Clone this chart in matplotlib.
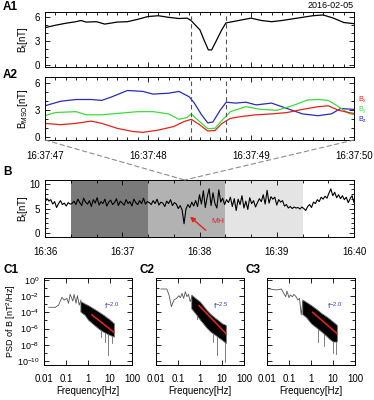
import numpy as np
import matplotlib
matplotlib.use('Agg')
import matplotlib.pyplot as plt
from matplotlib.patches import ConnectionPatch
from matplotlib.ticker import MultipleLocator, LogLocator, NullFormatter

plt.rcParams['font.family'] = ['Liberation Sans', 'DejaVu Sans']
plt.rcParams['mathtext.fontset'] = 'custom'
plt.rcParams['mathtext.rm'] = 'Liberation Sans'
plt.rcParams['mathtext.it'] = 'Liberation Sans'

# ---- A panels: seconds after 16:37:47 ----
a_ticks = [0, 1, 2, 3]
a_labels = ['16:37:47', '16:37:48', '16:37:49', '16:37:50']
mh_edges = [1.418, 1.757]

bt_t = [0, 0.1, 0.2, 0.3, 0.35, 0.4, 0.5, 0.58, 0.7, 0.8, 0.9, 1.0, 1.1, 1.2, 1.3,
        1.38, 1.418, 1.505, 1.544, 1.586, 1.618, 1.667, 1.715, 1.757, 1.8, 1.9, 2.0,
        2.1, 2.2, 2.3, 2.4, 2.5, 2.6, 2.7, 2.8, 2.9, 3.0]
bt_val = [4.7, 5.0, 5.25, 5.45, 5.6, 5.4, 5.45, 5.15, 5.4, 5.45, 5.75, 6.1, 6.2, 6.0, 5.85,
          5.9, 5.6, 4.4, 3.15, 1.9, 1.9, 3.15, 4.4, 5.3, 5.4, 5.65, 5.9,
          5.6, 5.45, 5.6, 5.8, 6.0, 6.2, 6.3, 5.9, 5.35, 5.2]

bz_t = [0, 0.15, 0.3, 0.45, 0.55, 0.65, 0.8, 0.95, 1.05, 1.2, 1.3, 1.4, 1.45, 1.52, 1.58,
        1.63, 1.7, 1.76, 1.85, 1.95, 2.05, 2.2, 2.35, 2.5, 2.65, 2.78, 2.87, 3.0]
bz_val = [3.5, 4.0, 4.2, 4.2, 4.1, 4.5, 5.2, 5.1, 4.8, 4.9, 5.1, 4.5, 3.8, 2.5, 1.6,
          1.7, 3.0, 3.9, 3.8, 3.9, 3.6, 3.8, 3.2, 2.6, 2.4, 2.6, 3.2, 3.1]
bx_t = [0, 0.15, 0.3, 0.45, 0.55, 0.7, 0.85, 0.95, 1.1, 1.25, 1.35, 1.42, 1.5, 1.58,
        1.65, 1.72, 1.8, 1.9, 2.05, 2.2, 2.35, 2.5, 2.65, 2.75, 2.85, 2.95, 3.0]
bx_val = [1.55, 1.4, 1.55, 1.8, 1.55, 1.0, 0.65, 0.55, 0.8, 1.2, 1.75, 2.0, 1.4, 0.7,
          0.75, 1.55, 2.1, 2.3, 2.5, 2.6, 2.75, 3.1, 3.4, 3.5, 3.0, 2.75, 2.65]
by_t = [0, 0.1, 0.3, 0.4, 0.55, 0.7, 0.9, 1.05, 1.2, 1.3, 1.38, 1.42, 1.5, 1.58, 1.65,
        1.72, 1.8, 1.95, 2.1, 2.25, 2.4, 2.55, 2.65, 2.75, 2.85, 2.95, 3.0]
by_val = [2.4, 2.75, 2.85, 2.5, 2.5, 2.65, 2.85, 2.85, 2.6, 2.0, 2.2, 2.6, 1.75, 0.95, 1.0,
          1.9, 2.85, 3.4, 3.1, 3.0, 3.5, 4.15, 4.2, 4.1, 3.4, 2.65, 2.5]

# ---- B panel: seconds after 16:36:00 ----
b_ticks = [0, 60, 120, 180, 240]
b_labels = ['16:36', '16:37', '16:38', '16:39', '16:40']
b_total = [
    6.3, 7.0, 6.5, 6.8, 5.9, 6.4, 5.2, 6.0, 6.6, 5.8, 6.1, 5.5, 6.2, 5.9,
    6.0, 6.5, 5.8, 6.9, 6.2, 5.6, 7.1, 6.3, 5.9, 6.6, 5.4, 6.8, 6.1, 7.2, 5.7, 6.4,
    6.0, 6.9, 5.5, 6.3, 6.7, 5.8, 6.2, 7.0, 5.6, 6.5, 6.1, 5.7, 6.8, 6.0, 6.4, 5.5,
    6.9, 6.2, 5.8, 6.6, 6.0, 7.1, 5.9, 6.4,
    6.2, 5.8, 6.6, 6.0, 6.9, 5.7, 6.3, 6.1, 5.4, 6.5, 6.0, 6.8, 5.6, 6.2, 5.9,
    5.0, 5.6, 4.7, 1.9, 4.9, 5.8, 5.2, 6.3, 5.5, 6.6,
    5.4, 7.8, 5.9, 8.6, 5.2, 7.4, 9.0, 5.6, 8.2, 6.0, 5.1, 8.8, 6.3, 7.1, 5.8,
    6.8, 6.2, 7.3, 5.4, 7.0, 4.6, 6.9, 5.8, 7.6, 5.1, 6.5, 4.8, 7.2, 6.0, 6.6, 5.3,
    6.2, 7.0, 6.4, 7.8, 5.9, 8.7, 6.1, 7.4, 6.9, 7.3, 5.7, 6.8, 6.3, 6.6, 5.5, 5.8,
    5.1, 5.4, 5.0, 5.3, 5.1, 5.2, 4.9, 5.3,
    5.0, 4.6, 5.4, 5.8, 5.2, 6.3, 6.0, 6.8, 6.4, 7.3, 6.9, 7.5, 7.1, 8.1, 9.0, 7.6,
    8.3, 7.2, 7.8, 7.0, 7.6, 6.8, 7.3, 6.2, 7.0, 7.6, 6.2]
b_intervals = [(20, 80), (80, 140), (140, 200)]
b_shades = ['#7a7a7a', '#b2b2b2', '#e4e4e4']
zoom_center = 108.5

# ---- C panels: PSD (log10 values) ----
psd = {
    'C1': dict(
        low_f=[0.0165, 0.0328, 0.0461, 0.0652, 0.083, 0.11, 0.13, 0.154, 0.204, 0.233,
               0.287, 0.33, 0.40, 0.48],
        low_p=[-3.37, -3.37, -3.09, -2.14, -2.47, -2.27, -2.88, -1.77, -2.59, -1.77,
               -2.88, -1.93, -3.09, -2.47],
        band_f=[0.45, 0.7, 1.0, 2.0, 3.0, 5.0, 7.0, 10.0, 15.0],
        band_hi=[-2.6, -2.9, -3.1, -3.6, -3.9, -4.3, -4.6, -4.9, -5.35],
        band_lo=[-3.9, -4.3, -4.9, -5.6, -6.0, -6.4, -6.6, -6.8, -7.0],
        spikes=[(6.0, -7.6), (8.0, -9.3), (4.0, -7.0), (12.0, -7.8)],
        fit_f=[1.5, 15.0], fit_p=[-4.3, -6.45], label='f$^{-2.0}$', lab_x=0.77),
    'C2': dict(
        low_f=[0.0167, 0.031, 0.039, 0.05, 0.065, 0.086, 0.109, 0.129, 0.153, 0.181,
               0.216, 0.256, 0.30, 0.358, 0.43],
        low_p=[-1.11, -1.11, -1.85, -3.3, -2.47, -2.27, -1.94, -2.18, -1.65, -2.27,
               -1.44, -2.06, -1.77, -2.67, -2.06],
        band_f=[0.4, 0.6, 1.0, 2.0, 3.0, 5.0, 7.0, 10.0, 15.0],
        band_hi=[-1.8, -2.2, -2.67, -3.7, -4.2, -4.7, -5.0, -5.35, -5.56],
        band_lo=[-3.5, -4.1, -4.9, -5.9, -6.38, -6.8, -7.1, -7.4, -7.8],
        spikes=[(0.7, -4.8), (6.0, -9.25), (14.0, -10.1), (4.0, -7.6)],
        fit_f=[0.9, 15.0], fit_p=[-3.15, -6.6], label='f$^{-2.5}$', lab_x=0.74),
    'C3': dict(
        low_f=[0.0136, 0.0272, 0.0456, 0.054, 0.071, 0.081, 0.1, 0.115, 0.142, 0.167,
               0.21, 0.254, 0.30, 0.36, 0.42],
        low_p=[-1.11, -1.23, -1.11, -1.52, -2.06, -1.36, -2.18, -1.85, -2.06, -1.77,
               -2.06, -2.47, -2.27, -4.32, -2.67],
        band_f=[0.4, 0.6, 1.0, 2.0, 3.0, 5.0, 7.0, 10.0, 15.0],
        band_hi=[-2.4, -2.7, -3.09, -3.7, -4.1, -4.5, -4.8, -5.14, -5.56],
        band_lo=[-4.2, -4.6, -5.35, -6.0, -6.38, -6.9, -7.3, -7.6, -7.6],
        spikes=[(2.0, -7.6), (4.0, -8.2), (10.0, -9.05), (14.0, -9.2)],
        fit_f=[1.2, 15.0], fit_p=[-4.0, -6.6], label='f$^{-2.0}$', lab_x=0.77),
}

W, H = 374, 400
fig = plt.figure(figsize=(W / 100, H / 100), dpi=100)


def rect(left, top, right, bottom):
    return [left / W, 1 - bottom / H, (right - left) / W, (bottom - top) / H]


def idl_ticks(ax):
    ax.tick_params(which='both', direction='in', top=True, right=True, labelsize=7,
                   width=0.6, colors='black')
    ax.tick_params(which='major', length=3.5)
    ax.tick_params(which='minor', length=2)
    for s in ax.spines.values():
        s.set_linewidth(0.7)


# A1
ax1 = fig.add_axes(rect(45, 12, 354, 67))
ax1.plot(bt_t, bt_val, color='black', lw=0.9)
ax1.set_xlim(0, 3)
ax1.set_ylim(-0.25, 6.67)
ax1.set_yticks([0, 3, 6])
ax1.xaxis.set_major_locator(MultipleLocator(1))
ax1.xaxis.set_minor_locator(MultipleLocator(0.1))
ax1.yaxis.set_minor_locator(MultipleLocator(1))
ax1.set_xticklabels([])
ax1.set_ylabel('B$_\\mathrm{t}$[nT]', fontsize=7)
ax1.yaxis.set_label_coords(-0.05, 0.5)
idl_ticks(ax1)

# A2
ax2 = fig.add_axes(rect(45, 77, 354, 140))
ax2.plot(bz_t, bz_val, color='#2b2bb5', lw=0.9)
ax2.plot(by_t, by_val, color='#3ddc3d', lw=0.9)
ax2.plot(bx_t, bx_val, color='#e3221c', lw=0.9)
ax2.set_xlim(0, 3)
ax2.set_ylim(-0.3, 6.7)
ax2.set_yticks([0, 3, 6])
ax2.set_xticks(a_ticks)
ax2.set_xticklabels(a_labels)
ax2.xaxis.set_minor_locator(MultipleLocator(0.1))
ax2.yaxis.set_minor_locator(MultipleLocator(1))
ax2.set_ylabel('B$_\\mathrm{MSO}$[nT]', fontsize=7)
ax2.yaxis.set_label_coords(-0.05, 0.5)
idl_ticks(ax2)
ax2.tick_params(axis='x', pad=8)
for lab, col, yy in [('B$_\\mathrm{x}$', '#e3221c', 0.635),
                     ('B$_\\mathrm{y}$', '#3ddc3d', 0.475),
                     ('B$_\\mathrm{z}$', '#2b2bb5', 0.315)]:
    ax2.text(1.012, yy, lab, color=col, fontsize=5.2, transform=ax2.transAxes,
             va='center', ha='left')

for ax in (ax1, ax2):
    for xv in mh_edges:
        ax.axvline(xv, color='#555555', lw=0.8, ls=(0, (4, 3)))

# B
ax3 = fig.add_axes(rect(45, 180, 354, 237))
for (x0, x1), c in zip(b_intervals, b_shades):
    ax3.axvspan(x0, x1, color=c, lw=0)
b_t = np.linspace(0, 240, len(b_total))
ax3.plot(b_t, b_total, color='black', lw=0.8)
ax3.set_xlim(0, 240)
ax3.set_ylim(-0.8, 10.8)
ax3.set_yticks([0, 5, 10])
ax3.set_xticks(b_ticks)
ax3.set_xticklabels(b_labels)
ax3.xaxis.set_minor_locator(MultipleLocator(20))
ax3.yaxis.set_minor_locator(MultipleLocator(1))
ax3.set_ylabel('B$_\\mathrm{t}$[nT]', fontsize=7)
ax3.yaxis.set_label_coords(-0.05, 0.5)
idl_ticks(ax3)
ax3.tick_params(axis='x', pad=7.5)
ax3.annotate('', xy=(111, 3.7), xytext=(126.5, 0.2),
             arrowprops=dict(arrowstyle='-|>', color='#e3221c', lw=1.0,
                             mutation_scale=7))
ax3.text(129, 2.4, 'MH', color='#e3221c', fontsize=6, va='center')

for xa in (0, 1):
    con = ConnectionPatch(xyA=(xa, 0), coordsA=ax2.transAxes,
                          xyB=(zoom_center, 1), coordsB=ax3.get_xaxis_transform(),
                          color='#8c8c8c', lw=0.8, ls=(0, (4, 3)))
    fig.add_artist(con)

# C panels
c_rects = [rect(44, 278, 132, 365), rect(156, 278, 244, 365), rect(267, 278, 355, 365)]
for i, (name, r) in enumerate(zip(psd, c_rects)):
    d = psd[name]
    ax = fig.add_axes(r)
    ax.set_xscale('log')
    ax.set_yscale('log')
    ax.plot(d['low_f'], 10 ** np.array(d['low_p']), color='#555555', lw=0.6)
    ax.fill_between(d['band_f'], 10 ** np.array(d['band_lo']), 10 ** np.array(d['band_hi']),
                    facecolor='black', edgecolor='#777777', lw=0.6)
    for sf, sp in d['spikes']:
        top = np.interp(np.log10(sf), np.log10(d['band_f']), d['band_lo'])
        ax.plot([sf, sf], [10 ** sp, 10 ** top], color='#6a6a6a', lw=0.6)
    ax.plot(d['fit_f'], 10 ** np.array(d['fit_p']), color='#e3221c', lw=1.2)
    ax.text(d['lab_x'], 0.67, d['label'], color='#3a3ab8', fontsize=6,
            transform=ax.transAxes, ha='center', va='center')
    ax.set_xlim(0.01, 100)
    ax.set_ylim(10 ** -10.5, 10 ** 0.25)
    ax.set_xticks([0.01, 0.1, 1, 10, 100])
    ax.set_xticklabels(['0.01', '0.1', '1', '10', '100'])
    ax.set_yticks([1, 1e-2, 1e-4, 1e-6, 1e-8, 1e-10])
    ax.yaxis.set_minor_locator(LogLocator(base=10, subs=[1.0], numticks=20))
    ax.yaxis.set_minor_formatter(NullFormatter())
    ax.xaxis.set_minor_formatter(NullFormatter())
    idl_ticks(ax)
    ax.tick_params(axis='x', pad=6.5)
    ax.tick_params(axis='y', labelsize=6.5)
    if i == 0:
        ax.set_yticklabels(['10$^{0}$', '10$^{-2}$', '10$^{-4}$', '10$^{-6}$',
                            '10$^{-8}$', '10$^{-10}$'])
        ax.set_ylabel('PSD of B [nT$^2$/Hz]', fontsize=6.5)
        ax.yaxis.set_label_coords(-0.29, 0.5)
    else:
        ax.set_yticklabels([])
    ax.set_xlabel('Frequency[Hz]', fontsize=7, labelpad=1.5)

# panel labels
for txt, x, y in [('A1', 3, 7), ('A2', 3, 75), ('B', 3, 172), ('C1', 3, 270),
                  ('C2', 139, 270), ('C3', 246, 270)]:
    fig.text(x / W, 1 - y / H, txt, fontsize=8.5, fontweight='bold', va='center', ha='left')
fig.text(354 / W, 1 - 5 / H, '2016-02-05', fontsize=6.5, ha='right', va='center')

fig.savefig('out.png', dpi=100)
